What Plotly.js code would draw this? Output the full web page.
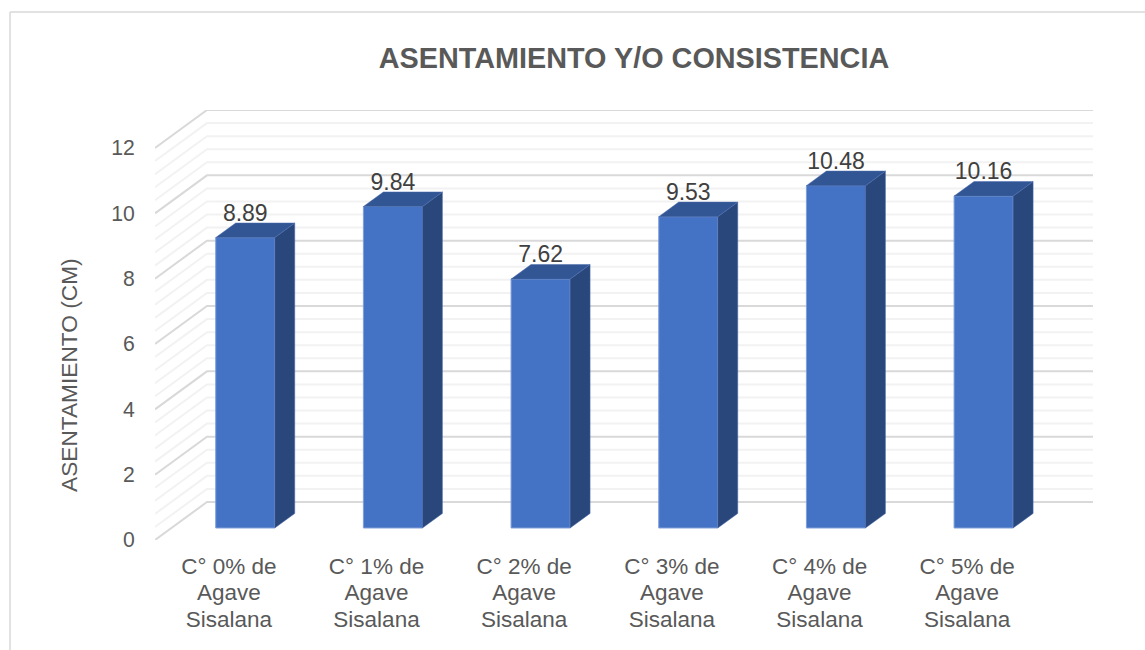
<!DOCTYPE html>
<html>
<head>
<meta charset="utf-8">
<script src="https://cdn.plot.ly/plotly-3.0.1.min.js"></script>
<style>
  html, body { margin: 0; padding: 0; background: #fff; }
  #chart { width: 1145px; height: 650px; }
</style>
</head>
<body>
<div id="chart"></div>
<script>
const categories = [
  "C° 0% de<br>Agave<br>Sisalana",
  "C° 1% de<br>Agave<br>Sisalana",
  "C° 2% de<br>Agave<br>Sisalana",
  "C° 3% de<br>Agave<br>Sisalana",
  "C° 4% de<br>Agave<br>Sisalana",
  "C° 5% de<br>Agave<br>Sisalana"
];
const asentamiento = [8.89, 9.84, 7.62, 9.53, 10.48, 10.16];
const labels = ["8.89", "9.84", "7.62", "9.53", "10.48", "10.16"];
const yTicks = [0, 2, 4, 6, 8, 10, 12];

// fake 3D: how far the back wall sits from the front plane, in axis units
const wallX = 0.352;
const wallY = 1.163;
const barFront = 0.316;  // depth of the bar front face, 0 front .. 1 back
const barBack = 0.70;
const barWidth = 0.40;
const labelLift = 0.25;

const positions = categories.map((c, i) => i);
const frontX = i => i + barFront * wallX;
const backX = i => i + barBack * wallX;
const base = barFront * wallY;
const backBase = barBack * wallY;

// top and side faces of each bar
const topX = [], topY = [], sideX = [], sideY = [];
asentamiento.forEach((v, i) => {
  const l = frontX(i) - barWidth / 2, r = frontX(i) + barWidth / 2;
  const bl = backX(i) - barWidth / 2, br = backX(i) + barWidth / 2;
  const yf = base + v, yb = backBase + v;
  topX.push(l, r, br, bl, l, null);
  topY.push(yf, yf, yb, yb, yf, null);
  sideX.push(r, br, br, r, r, null);
  sideY.push(yf, yb, backBase, base, yf, null);
});

const front = {
  type: "bar",
  x: positions.map(frontX),
  y: asentamiento,
  base: base,
  width: barWidth,
  marker: { color: "#4472c4", line: { color: "#7f9fd8", width: 1 } },
  hoverinfo: "skip"
};
const topFace = {
  type: "scatter", mode: "lines", x: topX, y: topY, fill: "toself",
  fillcolor: "#325594", line: { color: "#4a6dae", width: 0.5 }, hoverinfo: "skip"
};
const sideFace = {
  type: "scatter", mode: "lines", x: sideX, y: sideY, fill: "toself",
  fillcolor: "#2a477c", line: { color: "#4a6dae", width: 0.5 }, hoverinfo: "skip"
};
const valueLabels = {
  type: "scatter", mode: "text",
  x: positions.map(frontX),
  y: asentamiento.map(v => backBase + v + labelLift),
  text: labels,
  textposition: "middle center",
  textfont: { size: 23, color: "#404040" },
  hoverinfo: "skip"
};

// walls: left side plus back, one line every 0.4, heavier on the labelled ticks
const wallShapes = [];
for (let n = 0; n <= 30; n++) {
  const v = n * 0.4;
  const major = n % 5 === 0;
  wallShapes.push({
    type: "path", xref: "x", yref: "y", layer: "below",
    path: `M -0.5 ${v} L ${-0.5 + wallX} ${v + wallY} L ${5.5 + wallX} ${v + wallY}`,
    line: { color: major ? "#d9d9d9" : "#f2f2f2", width: 2 }
  });
}
// outer chart frame, only top and left are inside the picture
const plotW = 938, plotH = 430;
const px = x => (x - 155) / plotW;
const py = y => (540 - y) / plotH;
const frame = [
  { x0: px(10), y0: py(12), x1: px(1145), y1: py(12) },
  { x0: px(10), y0: py(12), x1: px(10), y1: py(650) }
].map(s => Object.assign(s, { type: "line", xref: "paper", yref: "paper", line: { color: "#d9d9d9", width: 1.5 } }));

const layout = {
  width: 1145,
  height: 650,
  margin: { l: 155, r: 52, t: 110, b: 110 },
  paper_bgcolor: "#fff",
  plot_bgcolor: "rgba(0,0,0,0)",
  showlegend: false,
  font: { family: "Liberation Sans, Arial, sans-serif", color: "#595959" },
  title: {
    text: "<b>ASENTAMIENTO Y/O CONSISTENCIA</b>",
    font: { size: 28.8, color: "#595959" },
    x: 634 / 1145, xanchor: "center",
    y: 1 - 58 / 650, yanchor: "middle"
  },
  xaxis: {
    range: [-0.5, 5.5 + wallX],
    tickvals: positions,
    ticktext: categories,
    tickfont: { size: 22.5, color: "#595959" },
    ticks: "outside", ticklen: 6, tickcolor: "rgba(0,0,0,0)",
    showgrid: false, zeroline: false, showline: false
  },
  yaxis: {
    range: [0, 12 + wallY],
    tickvals: yTicks,
    tickfont: { size: 21.2, color: "#595959" },
    ticks: "outside", ticklen: 15, tickcolor: "rgba(0,0,0,0)",
    showgrid: false, zeroline: false, showline: false
  },
  annotations: [{
    text: "ASENTAMIENTO (CM)",
    xref: "paper", yref: "paper",
    x: px(69), y: py(375),
    xanchor: "center", yanchor: "middle",
    textangle: -90, showarrow: false,
    font: { size: 22.7, color: "#595959" }
  }],
  shapes: wallShapes.concat(frame)
};

Plotly.newPlot("chart", [front, sideFace, topFace, valueLabels], layout, { displayModeBar: false, staticPlot: true }).then(() => {
  // tick labels sit tighter than plotly's fixed 1.3em line height
  document.querySelectorAll(".xtick text tspan.line").forEach(s => {
    const n = parseFloat(s.getAttribute("dy")) / 1.3;
    s.setAttribute("dy", (n * 26.3) + "px");
  });
});
</script>
</body>
</html>
